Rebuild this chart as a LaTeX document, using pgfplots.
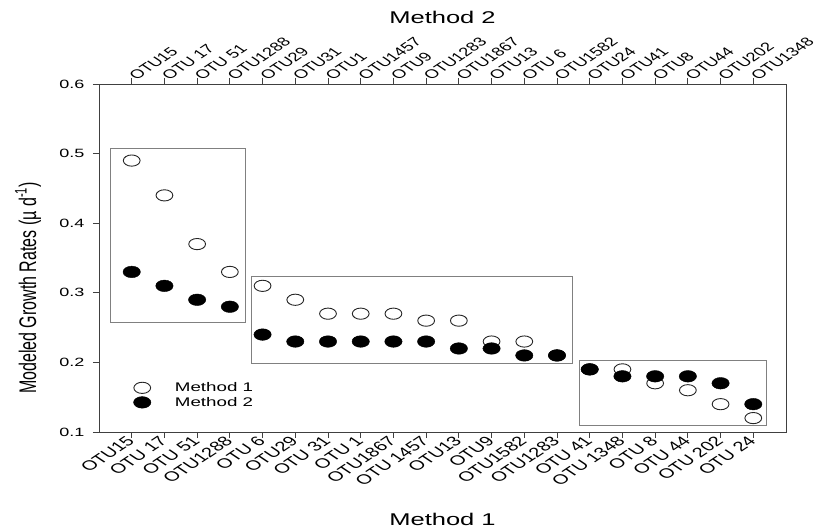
\documentclass[border=0pt]{standalone}
\usepackage{pgfplots}
\pgfplotsset{compat=1.18}
\usepackage{fontspec}
\setmainfont{Liberation Sans}[FakeStretch=1.5]
\newfontfamily\rotfont{Liberation Sans}
\definecolor{axisgray}{HTML}{404040}
\definecolor{boxgray}{HTML}{808080}

\begin{document}
\begin{tikzpicture}
\begin{axis}[
  name=main,
  width=687pt, height=348pt, scale only axis,
  xmin=-1, xmax=20, ymin=0.1, ymax=0.6,
  clip=false,
  xtick={0,1,...,19},
  xticklabels={OTU15, OTU 17, OTU 51, OTU1288, OTU 6, OTU29, OTU 31, OTU 1, OTU1867, OTU 1457,
    OTU13, OTU9, OTU1582, OTU1283, OTU 41, OTU 1348, OTU 8, OTU 44, OTU 202, OTU 24},
  ytick={0.1,0.2,0.3,0.4,0.5,0.6},
  /pgf/number format/assume math mode=true,
  yticklabel style={/pgf/number format/fixed, /pgf/number format/fixed zerofill,
    /pgf/number format/precision=1, font=\fontsize{12}{14}\selectfont, xshift=-5pt},
  xtick pos=left, ytick pos=left,
  tick align=outside, major tick length=6pt,
  tick style={axisgray, line width=0.8pt},
  axis line style={axisgray, line width=0.8pt},
  xticklabel style={font=\rotfont\fontsize{13.5}{15}\selectfont, xscale=1.5, rotate=45, anchor=east, inner sep=1pt},
  xlabel={Method 1},
  every axis x label/.style={at={(axis description cs:0.5,-0.25)}, anchor=center,
    font=\fontsize{17}{20}\selectfont},
  ylabel={Modeled Growth Rates (µ d\textsuperscript{-1})},
  every axis y label/.style={at={(axis description cs:-0.1033,0.414)}, anchor=center,
    xscale=1.5, rotate=90, font=\rotfont\fontsize{16}{18}\selectfont},
  legend style={at={(axis description cs:0.050,0.106)}, anchor=west, draw=none, fill=none,
    inner sep=0pt, font=\fontsize{12.5}{14}\selectfont,
    /tikz/every odd column/.append style={column sep=22pt}},
  legend cell align=left,
]
% group boxes
\draw[boxgray, line width=0.8pt] (axis cs:-0.64,0.258) rectangle (axis cs:3.49,0.508);
\draw[boxgray, line width=0.8pt] (axis cs:3.67,0.199) rectangle (axis cs:13.46,0.324);
\draw[boxgray, line width=0.8pt] (axis cs:13.67,0.11) rectangle (axis cs:19.39,0.203);

\addplot[only marks, mark=*, mark size=5.6pt,
  mark options={xscale=1.5, fill=white, draw=black!85, line width=0.9pt}] coordinates {
  (0,0.49)(1,0.44)(2,0.37)(3,0.33)(4,0.31)(5,0.29)(6,0.27)(7,0.27)(8,0.27)(9,0.26)
  (10,0.26)(11,0.23)(12,0.23)(13,0.21)(14,0.19)(15,0.19)(16,0.17)(17,0.16)(18,0.14)(19,0.12)};
\addlegendentry{Method 1}
\addplot[only marks, mark=*, mark size=5.8pt,
  mark options={xscale=1.5, fill=black, draw=black}] coordinates {
  (0,0.33)(1,0.31)(2,0.29)(3,0.28)(4,0.24)(5,0.23)(6,0.23)(7,0.23)(8,0.23)(9,0.23)
  (10,0.22)(11,0.22)(12,0.21)(13,0.21)(14,0.19)(15,0.18)(16,0.18)(17,0.18)(18,0.17)(19,0.14)};
\addlegendentry{Method 2}
\end{axis}

\begin{axis}[
  width=687pt, height=348pt, scale only axis,
  xmin=-1, xmax=20, ymin=0.1, ymax=0.6,
  axis x line*=top, axis y line=none,
  xtick={0,1,...,19},
  xticklabels={OTU15, OTU 17, OTU 51, OTU1288, OTU29, OTU31, OTU1, OTU1457, OTU9, OTU1283,
    OTU1867, OTU13, OTU 6, OTU1582, OTU24, OTU41, OTU8, OTU44, OTU202, OTU1348},
  tick align=outside, major tick length=6pt,
  tick style={axisgray, line width=0.8pt},
  axis line style={axisgray, line width=0.8pt},
  xticklabel style={font=\rotfont\fontsize{12.3}{14}\selectfont, xscale=1.5, rotate=45, anchor=west, inner sep=0.5pt},
  xlabel={Method 2},
  every axis x label/.style={at={(axis description cs:0.5,1.1925)}, anchor=center,
    font=\fontsize{17}{20}\selectfont},
]
\end{axis}

\pgfresetboundingbox
\path[use as bounding box] ([xshift=-99pt,yshift=-99pt]main.south west)
  rectangle ([xshift=32pt,yshift=84pt]main.north east);
\end{tikzpicture}
\end{document}
